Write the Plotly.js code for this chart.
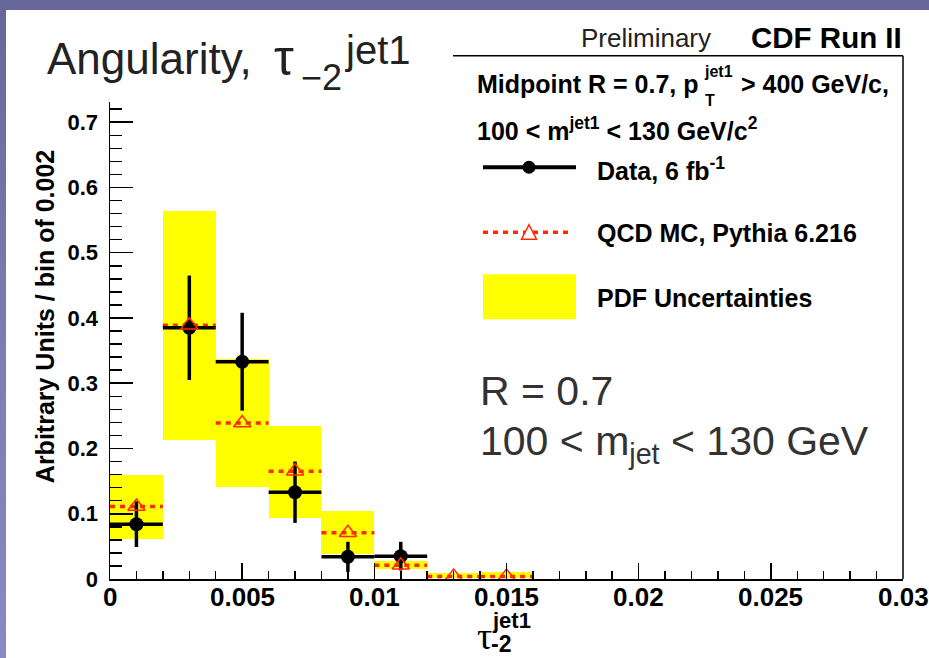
<!DOCTYPE html>
<html>
<head>
<meta charset="utf-8">
<script src="https://cdn.plot.ly/plotly-3.0.1.min.js"></script>
<style>
  html, body { margin: 0; padding: 0; width: 929px; height: 658px; overflow: hidden;
    background: linear-gradient(180deg, #66669a 0%, #7c7cb2 50%, #8a8ac2 100%); }
  #plot { position: absolute; left: 6px; top: 10px; width: 923px; height: 648px; background: #fff; }
</style>
</head>
<body>
<div id="plot"></div>
<script>
// ---- data ----
const binCenters = [0.001, 0.003, 0.005, 0.007, 0.009, 0.011, 0.013, 0.015];
const binWidth = 0.002;
const pdfLow  = [0.061, 0.213, 0.141, 0.094, 0.038, 0.015, 0.0015, 0.0015];
const pdfHigh = [0.160, 0.564, 0.337, 0.234, 0.104, 0.028, 0.009, 0.011];
const mcValues = [0.111, 0.389, 0.239, 0.165, 0.071, 0.021, 0.004, 0.004];
const dataCenters = [0.001, 0.003, 0.005, 0.007, 0.009, 0.011];
const dataValues  = [0.084, 0.385, 0.333, 0.133, 0.034, 0.035];
const dataErrors  = [0.035, 0.080, 0.075, 0.047, 0.023, 0.022];
const xTickVals = [0, 0.005, 0.01, 0.015, 0.02, 0.025, 0.03];
const xTickText = ["0", "0.005", "0.01", "0.015", "0.02", "0.025", "0.03"];
const yTickVals = [0, 0.1, 0.2, 0.3, 0.4, 0.5, 0.6, 0.7];
const yTickText = ["0", "0.1", "0.2", "0.3", "0.4", "0.5", "0.6", "0.7"];

// ---- page-pixel -> paper helpers (plot area: x 110..903, y 579..101.7 on page) ----
const PX0 = 110, PX1 = 903, PY0 = 579, PY1 = 101.7;
const px = X => (X - PX0) / (PX1 - PX0);
const py = Y => (PY0 - Y) / (PY0 - PY1);

const SANS = "Liberation Sans, Arial, Helvetica, sans-serif";
const RED = "#ff2a00";

// MC dashed bin segments built from the bin arrays
const mcX = [], mcY = [];
binCenters.forEach((c, i) => {
  mcX.push(c - binWidth / 2, c + binWidth / 2, null);
  mcY.push(mcValues[i], mcValues[i], null);
});

const traces = [
  {
    type: "bar", name: "PDF Uncertainties",
    x: binCenters, base: pdfLow, y: pdfHigh.map((h, i) => h - pdfLow[i]),
    width: binWidth, marker: { color: "#ffff00", line: { width: 0 } },
    showlegend: false, hoverinfo: "skip"
  },
  {
    type: "scatter", mode: "lines", name: "QCD MC line",
    x: mcX, y: mcY, connectgaps: false,
    line: { color: RED, width: 3.5, dash: "5px,5px" },
    showlegend: false
  },
  {
    type: "scatter", mode: "markers", name: "Data, 6 fb-1",
    x: dataCenters, y: dataValues,
    marker: { symbol: "circle", size: 14, color: "black" },
    error_x: { type: "constant", value: binWidth / 2, thickness: 3.5, width: 0, color: "black" },
    error_y: { type: "data", array: dataErrors, symmetric: true, thickness: 3.5, width: 0, color: "black" },
    showlegend: false
  },
  {
    type: "scatter", mode: "markers", name: "QCD MC, Pythia 6.216",
    x: binCenters, y: mcValues,
    marker: { symbol: "triangle-up-open", size: 15, color: RED, line: { color: RED, width: 1.5 } },
    showlegend: false
  }
];

function ann(text, X, Y, size, opts) {
  return Object.assign({
    text: text, xref: "paper", yref: "paper", x: px(X), y: py(Y),
    xanchor: "left", yanchor: "middle", showarrow: false,
    font: { family: SANS, size: size, color: "black" }
  }, opts || {});
}
const B = s => "<b>" + s + "</b>";

const annotations = [
  ann("Angularity,", 45, 58, 44, { font: { family: SANS, size: 44, color: "#222" } }),
  ann("τ", 272, 58, 50, { font: { family: SANS, size: 50, color: "#222" } }),
  ann("−2", 299, 77, 36, { font: { family: SANS, size: 36, color: "#222" } }),
  ann("jet1", 343, 50, 40, { font: { family: SANS, size: 40, color: "#222" } }),
  ann("Preliminary", 579, 38, 26, { font: { family: SANS, size: 26, color: "#222" } }),
  ann(B("CDF Run II"), 904, 37, 29.5, { xanchor: "right" }),
  ann(B("Midpoint R = 0.7, p"), 701, 84, 25, { xanchor: "right" }),
  ann(B("jet1"), 702, 71, 16),
  ann(B("T"), 703, 100, 16),
  ann(B(" > 400 GeV/c,"), 732, 84, 25),
  ann(B("100 < m<sup>jet1</sup> < 130 GeV/c<sup>2</sup>"), 475, 129, 25),
  ann(B("Data, 6 fb<sup>-1</sup>"), 595, 169, 25),
  ann(B("QCD MC, Pythia 6.216"), 595, 233, 25),
  ann(B("PDF Uncertainties"), 595, 298, 25),
  ann("R = 0.7", 478, 391, 41, { font: { family: SANS, size: 41, color: "#333" } }),
  ann("100 < m<sub>jet</sub> < 130 GeV", 478, 444, 41, { font: { family: SANS, size: 41, color: "#333" } }),
  ann(B("Arbitrary Units / bin of 0.002"), 45, 317, 25, { xanchor: "center", textangle: -90 }),
  ann("τ", 475, 636, 38, { font: { family: "Liberation Serif, Times New Roman, serif", size: 38, color: "black" } }),
  ann(B("jet1"), 490, 621, 22),
  ann(B("-2"), 490, 658, 23, { yanchor: "bottom", borderpad: 0 })
];

// x tick labels placed on the x axis scale
xTickVals.forEach((v, i) => {
  annotations.push({
    text: "<b>" + xTickText[i] + "</b>", xref: "x", yref: "paper", x: v, y: py(597),
    xanchor: "center", yanchor: "middle", showarrow: false,
    font: { family: SANS, size: 26, color: "black" }
  });
});

const shapes = [
  // legend box (top + right edge)
  { type: "line", xref: "paper", yref: "paper", x0: px(453), x1: px(903), y0: py(55.5), y1: py(55.5), line: { color: "black", width: 1.5 } },
  { type: "line", xref: "paper", yref: "paper", x0: px(903), x1: px(903), y0: py(55.5), y1: py(579), line: { color: "black", width: 1.5 } },
  // legend symbols
  { type: "line", xref: "paper", yref: "paper", x0: px(483), x1: px(576), y0: py(167), y1: py(167), line: { color: "black", width: 4 } },
  { type: "circle", xref: "paper", yref: "paper", x0: px(522.5), x1: px(535.5), y0: py(160.5), y1: py(173.5), fillcolor: "black", line: { width: 0 } },
  { type: "line", xref: "paper", yref: "paper", x0: px(483), x1: px(572), y0: py(232), y1: py(232), line: { color: RED, width: 3.5, dash: "5px,5px" } },
  { type: "path", xref: "paper", yref: "paper",
    path: "M " + px(529) + "," + py(224.5) + " L " + px(536.5) + "," + py(239) + " L " + px(521.5) + "," + py(239) + " Z",
    fillcolor: "white", line: { color: RED, width: 1.5 } },
  { type: "rect", xref: "paper", yref: "paper", x0: px(483), x1: px(576), y0: py(274), y1: py(319), fillcolor: "#ffff00", line: { width: 0 } }
];

const layout = {
  width: 923, height: 648,
  margin: { l: 104, r: 26, t: 91.7, b: 79, pad: 0 },
  paper_bgcolor: "white", plot_bgcolor: "white",
  showlegend: false,
  bargap: 0,
  xaxis: {
    range: [0, 0.03], autorange: false,
    tickmode: "array", tickvals: xTickVals, ticktext: xTickText, showticklabels: false,
    ticks: "inside", ticklen: 16, tickwidth: 1.5, tickcolor: "black",
    minor: { tickmode: "linear", tick0: 0, dtick: 0.001, ticks: "inside", ticklen: 8, tickwidth: 1.5, tickcolor: "black", showgrid: false },
    showline: true, linecolor: "black", linewidth: 1.5,
    showgrid: false, zeroline: false
  },
  yaxis: {
    range: [0, 0.731], autorange: false,
    tickmode: "array", tickvals: yTickVals, ticktext: yTickText,
    ticks: "inside", ticklen: 23, tickwidth: 1.5, tickcolor: "black",
    minor: { tickmode: "linear", tick0: 0, dtick: 0.02, ticks: "inside", ticklen: 12, tickwidth: 1.5, tickcolor: "black", showgrid: false },
    showline: true, linecolor: "black", linewidth: 1.5,
    showgrid: false, zeroline: false,
    tickfont: { family: SANS, size: 22, color: "black", weight: "bold" },
    ticklabelstandoff: 6
  },
  annotations: annotations,
  shapes: shapes
};

Plotly.newPlot("plot", traces, layout, { displayModeBar: false, staticPlot: true });
</script>
</body>
</html>
